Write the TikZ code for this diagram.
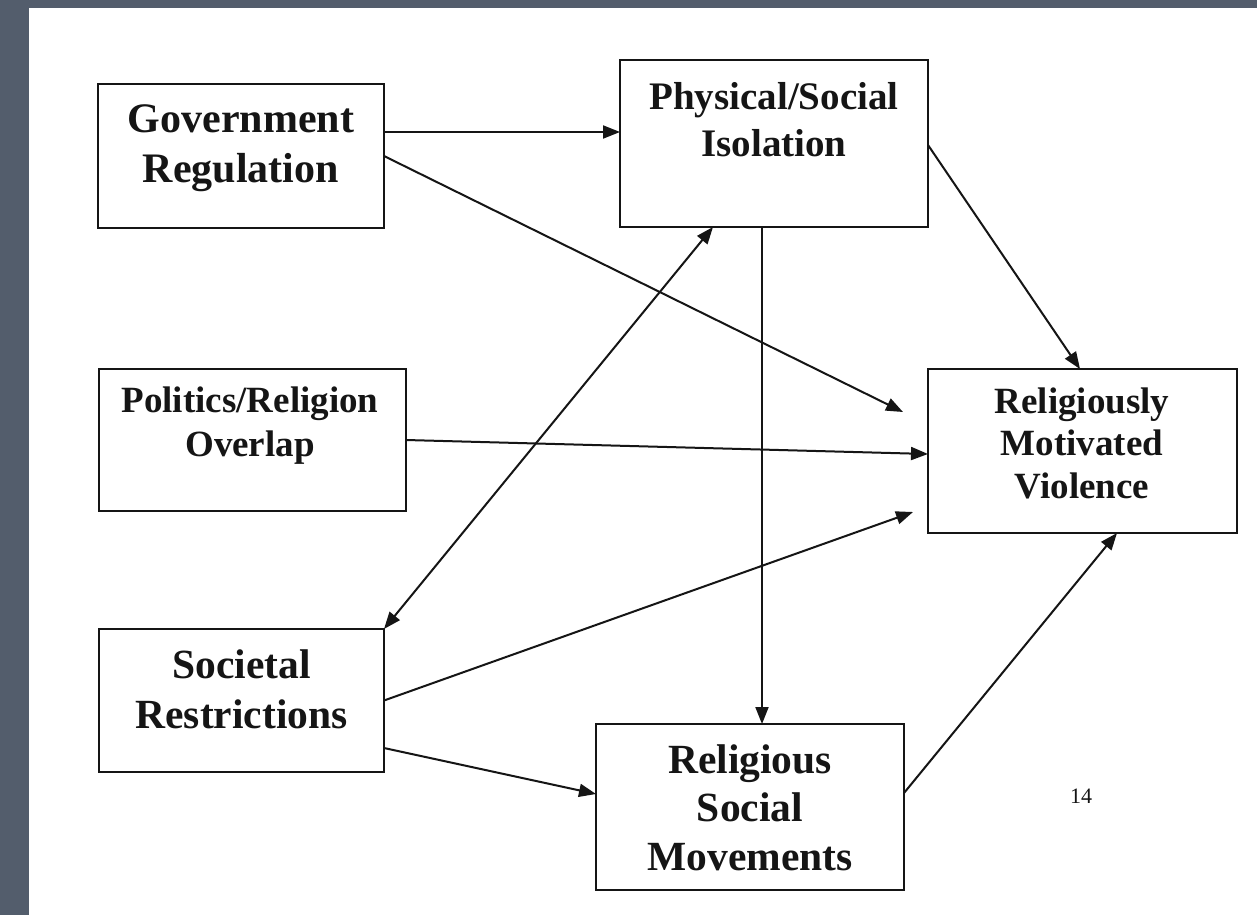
\documentclass[tikz,border=0pt]{standalone}
\usepackage{fontspec}
\setmainfont{Liberation Serif}
\usetikzlibrary{arrows.meta}
\definecolor{slate}{HTML}{535D6C}
\definecolor{ink}{HTML}{151515}
\begin{document}
\begin{tikzpicture}[x=1pt,y=-1pt,
  box/.style={draw=ink, line width=2.2pt, fill=white, rectangle, inner sep=0pt, outer sep=0pt},
  lbl/.style n args={2}{font=\bfseries\fontsize{#1}{#2}\selectfont, align=center, inner sep=0pt, text=ink},
  conn/.style={draw=ink, line width=2pt, -{Triangle[length=17pt,width=13pt]}},
  dbl/.style={draw=ink, line width=2pt, {Triangle[length=17pt,width=13pt]}-{Triangle[length=17pt,width=13pt]}}]
\fill[slate] (0,0) rectangle (1257,915);
\fill[white] (29,8) rectangle (1257,915);
\useasboundingbox (0,0) rectangle (1257,915);

% boxes
\node[box, minimum width=286pt, minimum height=144pt] (gov) at (241,156) {};
\node[box, minimum width=308pt, minimum height=167pt] (phys) at (774,143.5) {};
\node[box, minimum width=307pt, minimum height=142pt] (pol) at (252.5,440) {};
\node[box, minimum width=309pt, minimum height=164pt] (rmv) at (1082.5,451) {};
\node[box, minimum width=285pt, minimum height=143pt] (soc) at (241.5,700.5) {};
\node[box, minimum width=308pt, minimum height=166pt] (rsm) at (750,807) {};

% labels
\node[lbl={42}{50}] (govt) at (241,148) {Government\\Regulation};
\node[lbl={39}{47}] (physt) at (774,120) {Physical/Social\\Isolation};
\node[lbl={37}{44}] (polt) at (250,426) {Politics/Religion\\Overlap};
\node[lbl={37}{42.5}] (rmvt) at (1082,443) {Religiously\\Motivated\\Violence};
\node[lbl={41.5}{50}] (soct) at (241.5,689) {Societal\\Restrictions};
\node[lbl={41.5}{48.5}] (rsmt) at (750,807.5) {Religious\\Social\\Movements};
\node[font=\fontsize{22}{26}\selectfont, text=ink, inner sep=0pt] (pg) at (1081,796) {14};

% free ends
\coordinate (govtip) at (903,412);
\coordinate (soctip) at (913,512);

% connectors
\draw[conn] ([yshift=24pt]gov.east) -- ([yshift=11.5pt]phys.west);
\draw[conn] (gov.east) -- (govtip);
\draw[conn] ([yshift=-1.5pt]phys.east) -- ([xshift=-2.5pt]rmv.north);
\draw[conn] (pol.east) -- ([yshift=-3pt]rmv.west);
\draw[dbl] (soc.north east) -- ([xshift=-61pt]phys.south);
\draw[conn] (soc.east) -- (soctip);
\draw[conn] ([xshift=-12pt]phys.south) -- ([xshift=12pt]rsm.north);
\draw[conn] ([yshift=-47.5pt]soc.east) -- ([yshift=13pt]rsm.west);
\draw[conn] ([yshift=14pt]rsm.east) -- ([xshift=34.5pt]rmv.south);
\end{tikzpicture}
\end{document}
